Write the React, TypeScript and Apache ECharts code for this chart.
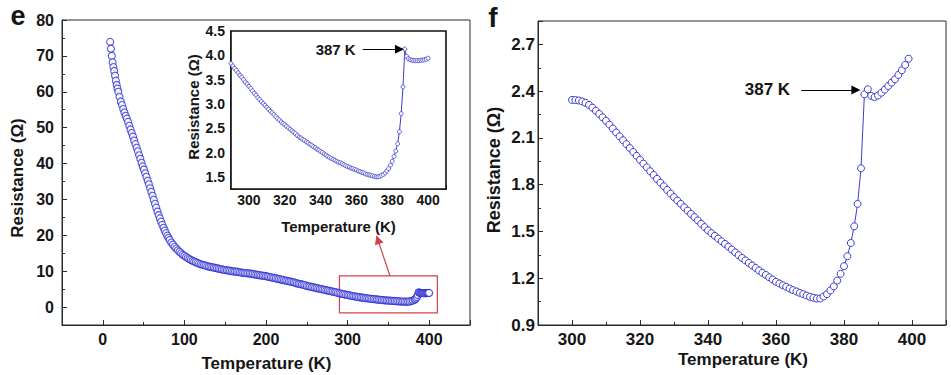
import { useEffect, useRef } from 'react';
import * as echarts from 'echarts';

// ---------- data ----------
// panel e, main curve below the inset range (T in K, R in ohm)
const mainT = [
  9, 10, 11, 12, 13, 14, 15, 16, 17, 18, 19,
  20.5, 22, 23.5, 25, 26.5, 28, 29.5, 31, 32.5, 34, 35.5, 37, 38.5, 40, 41.5, 43, 44.5, 46, 47.5, 49,
  50.5, 52, 53.5, 55, 56.5, 58, 59.5, 61, 62.5, 64, 65.5, 67, 68.5, 70, 71.5, 73, 74.5, 76, 77.5, 79, 80.5, 82,
  84, 86, 88, 90, 92, 94, 96, 98, 100,
  102, 104, 106, 108, 110, 112, 114, 116, 118, 120,
  122, 124, 126, 128, 130, 132, 134, 136, 138, 140,
  142, 144, 146, 148, 150, 152, 154, 156, 158, 160,
  162, 164, 166, 168, 170, 172, 174, 176, 178, 180,
  182, 184, 186, 188, 190, 192, 194, 196, 198, 200,
  202, 204, 206, 208, 210, 212, 214, 216, 218, 220,
  222, 224, 226, 228, 230, 232, 234, 236, 238, 240,
  242, 244, 246, 248, 250, 252, 254, 256, 258, 260,
  262, 264, 266, 268, 270, 272, 274, 276, 278, 280,
  282, 284, 286, 288,
];
const mainR = [
  73.9, 72.0, 70.0, 68.2, 66.9, 65.8, 64.5, 63.1, 61.9, 60.9, 60.0,
  58.6, 57.3, 56.3, 55.2, 54.2, 53.3, 52.5, 51.6, 50.5, 49.5, 48.5, 47.5, 46.4, 45.4, 44.4, 43.4, 42.3, 41.3, 40.2, 39.2,
  38.3, 37.3, 36.3, 35.2, 34.2, 33.1, 32.1, 31.0, 29.9, 28.8, 27.7, 26.6, 25.6, 24.7, 23.8, 22.9, 22.1, 21.3, 20.6, 19.9, 19.3, 18.7,
  18.0, 17.4, 16.8, 16.3, 15.8, 15.4, 15.0, 14.6, 14.3,
  13.95, 13.65, 13.4, 13.15, 12.9, 12.7, 12.5, 12.3, 12.1, 11.95,
  11.8, 11.7, 11.55, 11.4, 11.3, 11.2, 11.1, 11.0, 10.9, 10.8,
  10.7, 10.6, 10.5, 10.4, 10.3, 10.25, 10.2, 10.1, 10.0, 9.95,
  9.9, 9.85, 9.8, 9.7, 9.6, 9.55, 9.5, 9.45, 9.4, 9.35,
  9.3, 9.2, 9.1, 9.05, 9.0, 8.9, 8.8, 8.75, 8.7, 8.6,
  8.5, 8.4, 8.3, 8.2, 8.1, 8.0, 7.9, 7.8, 7.7, 7.6,
  7.5, 7.4, 7.3, 7.2, 7.1, 7.0, 6.9, 6.75, 6.6, 6.5,
  6.4, 6.3, 6.2, 6.05, 5.9, 5.8, 5.7, 5.6, 5.5, 5.4,
  5.3, 5.2, 5.1, 5.0, 4.9, 4.8, 4.7, 4.6, 4.5, 4.4,
  4.3, 4.2, 4.1, 3.95,
];

// inset of panel e: 290 K .. 400 K, 1 K steps
const insetStartT = 290;
const insetR = [
  3.83, 3.78, 3.73, 3.69, 3.64, 3.59, 3.55, 3.50, 3.45, 3.41,
  3.36, 3.32, 3.27, 3.22, 3.18, 3.13, 3.09, 3.05, 3.01, 2.97,
  2.93, 2.89, 2.85, 2.82, 2.78, 2.74, 2.70, 2.67, 2.63, 2.60,
  2.57, 2.54, 2.51, 2.48, 2.45, 2.42, 2.39, 2.35, 2.32, 2.30,
  2.27, 2.25, 2.22, 2.20, 2.17, 2.15, 2.12, 2.10, 2.07, 2.05,
  2.02, 2.00, 1.97, 1.95, 1.92, 1.90, 1.88, 1.86, 1.84, 1.82,
  1.80, 1.79, 1.77, 1.75, 1.73, 1.71, 1.70, 1.68, 1.67, 1.65,
  1.64, 1.62, 1.61, 1.59, 1.58, 1.56, 1.55, 1.54, 1.53, 1.52,
  1.51, 1.50, 1.50, 1.51, 1.53, 1.55, 1.58, 1.62, 1.67, 1.74,
  1.82, 1.92, 2.03, 2.18, 2.43, 2.80, 3.35, 4.13, 3.98, 3.93,
  3.91, 3.90, 3.89, 3.89, 3.89, 3.89, 3.90, 3.90, 3.91, 3.92, 3.94,
];

// panel f: 300 K .. 399 K, 1 K steps
const fStartT = 300;
const fR = [
  2.344, 2.343, 2.340, 2.334, 2.325, 2.312, 2.294, 2.274, 2.254, 2.232,
  2.210, 2.185, 2.160, 2.135, 2.110, 2.085, 2.060, 2.035, 2.010, 1.985,
  1.960, 1.935, 1.911, 1.886, 1.862, 1.837, 1.813, 1.790, 1.766, 1.743,
  1.720, 1.698, 1.677, 1.655, 1.634, 1.613, 1.592, 1.571, 1.549, 1.528,
  1.507, 1.489, 1.472, 1.454, 1.437, 1.420, 1.402, 1.384, 1.366, 1.348,
  1.330, 1.314, 1.298, 1.282, 1.266, 1.250, 1.235, 1.221, 1.206, 1.192,
  1.177, 1.166, 1.155, 1.145, 1.134, 1.124, 1.115, 1.106, 1.098, 1.089,
  1.081, 1.075, 1.070, 1.070, 1.083, 1.098, 1.122, 1.148, 1.185, 1.228,
  1.277, 1.341, 1.426, 1.533, 1.677, 1.905, 2.380, 2.412, 2.370, 2.362,
  2.372, 2.390, 2.410, 2.433, 2.455, 2.476, 2.504, 2.534, 2.568, 2.608,
];

// tick labels
const mainXLabels = [0, 100, 200, 300, 400];
const mainYLabels = [0, 10, 20, 30, 40, 50, 60, 70, 80];
const insetXLabels = [300, 320, 340, 360, 380, 400];
const insetYLabels = [1.5, 2.0, 2.5, 3.0, 3.5, 4.0, 4.5];
const fXLabels = [300, 320, 340, 360, 380, 400];
const fYLabels = [0.9, 1.2, 1.5, 1.8, 2.1, 2.4, 2.7];

// annotations (data coordinates)
const transitionLabel = '387 K';
const insetArrow = [[363.5, 4.124], [384.0, 4.124]];
const fArrow = [[367.4, 2.408], [383.5, 2.408]];
const zoomBox = [[290, 8.7], [410, -1.6]];
const zoomArrow = [[351.8, 8.8], [337.0, 18.8]];

// ---------- style ----------
const FONT = '"Liberation Sans", Arial, Helvetica, sans-serif';
const INK = '#151515';
const AXIS = '#2a2a2a';
const BLUE = '#3c3cd2';
const MAINBLUE = '#2a2ad4';
const RED = '#d2424a';

const isIn = (list: number[], v: number) => list.some((t) => Math.abs(t - v) < 1e-6);

function axisPair(
  kind: 'x' | 'y', grid: number, min: number, max: number, splitNumber: number,
  minorInterval: number, labels: number[], digits: number, fontSize: number, margin: number,
  majorLen: number, minorLen: number, lineWidth: number,
) {
  const position = kind === 'x' ? 'bottom' : 'left';
  const major = {
    type: 'value', gridIndex: grid, position, min, max, splitNumber,
    axisLine: { show: true, onZero: false, lineStyle: { color: AXIS, width: lineWidth } },
    axisTick: { show: true, inside: true, length: majorLen, lineStyle: { color: AXIS, width: 1 } },
    axisLabel: {
      show: true, margin, fontSize, fontWeight: 'bold', fontFamily: FONT, color: INK,
      formatter: (v: number) => (isIn(labels, v) ? v.toFixed(digits) : ''),
    },
    splitLine: { show: false },
  };
  const minor = {
    type: 'value', gridIndex: grid, position, min, max, interval: minorInterval,
    axisLine: { show: false, onZero: false },
    axisTick: { show: true, inside: true, length: minorLen, lineStyle: { color: AXIS, width: 1 } },
    axisLabel: { show: false },
    splitLine: { show: false },
  };
  return [major, minor];
}

function title(text: string, x: number, y: number, size: number, vertical = false) {
  return {
    type: 'text', x, y, rotation: vertical ? Math.PI / 2 : 0, silent: true,
    style: {
      text, fill: INK, font: `bold ${size}px ${FONT}`,
      textAlign: 'center', textVerticalAlign: 'middle', align: 'center', verticalAlign: 'middle',
    },
  };
}

function arrowLine(coords: number[][], color: string, label: string | null, fontSize: number, distance: number) {
  return {
    silent: true,
    symbol: ['none', 'triangle'],
    symbolSize: 9,
    itemStyle: { color },
    lineStyle: { color, width: 1.2, type: 'solid' },
    label: label
      ? { show: true, position: 'start', formatter: label, fontSize, fontWeight: 'bold', fontFamily: FONT, color: INK, distance }
      : { show: false },
    emphasis: { disabled: true },
    data: [[
      { coord: coords[0], symbol: 'none' },
      { coord: coords[1], symbol: 'triangle', symbolSize: 9 },
    ]],
  };
}

export default function App() {
  const ref = useRef<HTMLDivElement>(null);

  useEffect(() => {
    if (!ref.current) return;
    const chart = echarts.init(ref.current, undefined, { renderer: 'svg' });

    const insetPts = insetR.map((r, i) => [insetStartT + i, r]);
    const fPts = fR.map((r, i) => [fStartT + i, r]);
    const mainPts = mainT
      .map((t, i) => [t, mainR[i]])
      .concat(insetPts.filter((p) => (p[0] - insetStartT) % 2 === 0 || p[0] >= 382));

    const [mx, mxm] = axisPair('x', 0, -50, 450, 5, 50, mainXLabels, 0, 16, 6, 5, 3, 1);
    const [my, mym] = axisPair('y', 0, -5, 80, 8, 5, mainYLabels, 0, 16, 8, 5, 3, 1);
    const [ix, ixm] = axisPair('x', 1, 290, 410, 6, 10, insetXLabels, 0, 14, 4, 4, 2.5, 1.6);
    const [iy, iym] = axisPair('y', 1, 1.25, 4.5, 7, 0.25, insetYLabels, 1, 14, 6, 4, 2.5, 1.6);
    const [fx, fxm] = axisPair('x', 2, 290, 410, 6, 10, fXLabels, 0, 17, 6, 5, 3, 1);
    const [fy, fym] = axisPair('y', 2, 0.9, 2.85, 7, 0.15, fYLabels, 1, 17, 3, 5, 3, 1);

    chart.setOption({
      animation: false,
      backgroundColor: '#ffffff',
      textStyle: { fontFamily: FONT },
      grid: [
        { left: 62, top: 20, width: 408, height: 305, show: true, borderColor: AXIS, borderWidth: 1, backgroundColor: '#fff', containLabel: false, outerBoundsMode: 'none' },
        { left: 231, top: 31, width: 215, height: 158, show: true, borderColor: '#111', borderWidth: 1.6, backgroundColor: '#fff', containLabel: false, outerBoundsMode: 'none', z: 3 },
        { left: 538, top: 21, width: 408, height: 304, show: true, borderColor: AXIS, borderWidth: 1, backgroundColor: '#fff', containLabel: false, outerBoundsMode: 'none' },
      ],
      xAxis: [mx, mxm, ix, ixm, fx, fxm],
      yAxis: [my, mym, iy, iym, fy, fym],
      series: [
        {
          type: 'scatter', name: 'main', xAxisIndex: 0, yAxisIndex: 0, data: mainPts,
          symbol: 'circle', symbolSize: 7,
          itemStyle: { color: '#ffffff', borderColor: MAINBLUE, borderWidth: 1.1 },
          markArea: {
            silent: true,
            itemStyle: { color: 'rgba(0,0,0,0)', borderColor: RED, borderWidth: 1.2 },
            data: [[{ coord: zoomBox[0] }, { coord: zoomBox[1] }]],
          },
          markLine: arrowLine(zoomArrow, RED, null, 12, 5),
        },
        {
          type: 'line', name: 'inset', xAxisIndex: 2, yAxisIndex: 2, data: insetPts,
          symbol: 'circle', symbolSize: 4, showSymbol: true, z: 4,
          lineStyle: { color: BLUE, width: 1 },
          itemStyle: { color: '#ffffff', borderColor: BLUE, borderWidth: 0.8 },
          markLine: arrowLine(insetArrow, '#000', transitionLabel, 15, 7),
        },
        {
          type: 'line', name: 'f', xAxisIndex: 4, yAxisIndex: 4, data: fPts,
          symbol: 'circle', symbolSize: 7, showSymbol: true,
          lineStyle: { color: BLUE, width: 1 },
          itemStyle: { color: '#ffffff', borderColor: BLUE, borderWidth: 1 },
          markLine: arrowLine(fArrow, '#000', transitionLabel, 17, 11),
        },
      ],
      graphic: [
        title('e', 18, 16, 27),
        title('f', 493, 17, 28),
        title('Temperature (K)', 266.5, 363.5, 17),
        title('Resistance (Ω)', 17, 178, 17, true),
        title('Temperature (K)', 338.5, 226, 15),
        title('Resistance (Ω)', 193.5, 107, 15, true),
        title('Temperature (K)', 743, 359.5, 17),
        title('Resistance (Ω)', 493.5, 170, 18, true),
      ],
    });

    return () => chart.dispose();
  }, []);

  return <div ref={ref} style={{ position: 'absolute', left: 0, top: 0, width: 951, height: 375 }} />;
}
